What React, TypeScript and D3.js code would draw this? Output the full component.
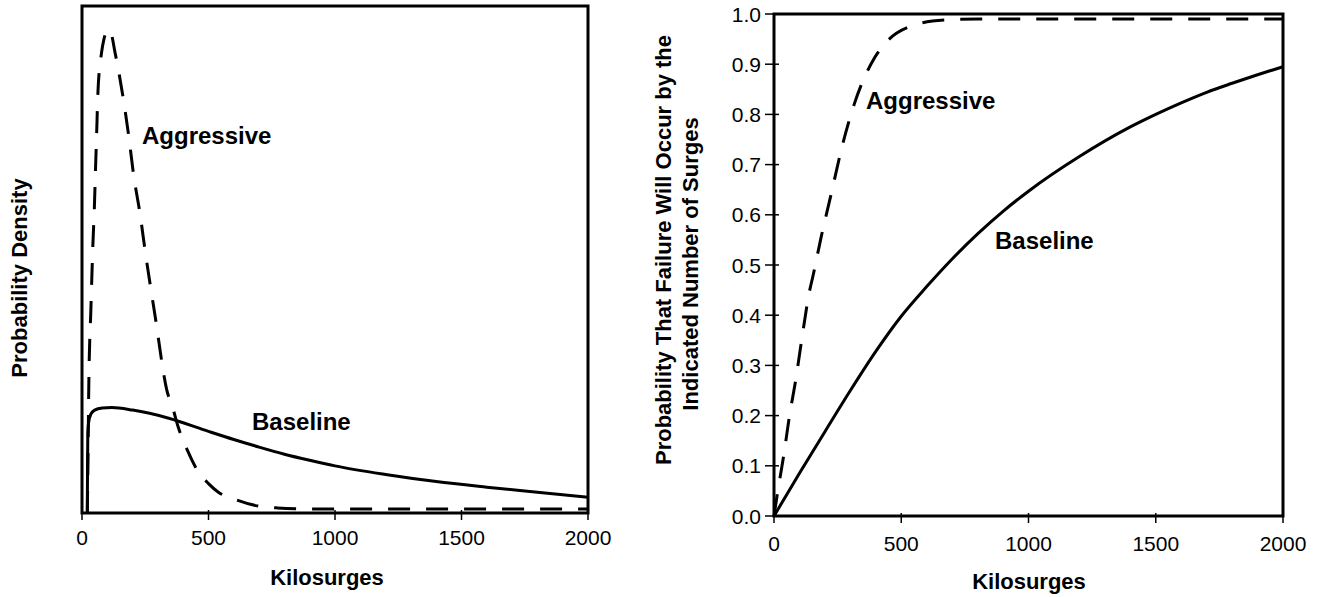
import React from 'react';
import * as d3 from 'd3';

// ---------- data ----------
const xTickValues = [0, 500, 1000, 1500, 2000];
const yTickValuesRight = [0, 0.1, 0.2, 0.3, 0.4, 0.5, 0.6, 0.7, 0.8, 0.9, 1.0];

// Left panel: probability density (arbitrary units, 0..1 of panel height)
const densBaselineKs = [21, 22, 23, 26, 35, 50, 80, 118, 200, 343, 500, 600, 700, 800, 900, 1000, 1200, 1400, 1600, 1800, 2000];
const densBaselineVal = [0, 0.1, 0.155, 0.178, 0.195, 0.203, 0.207, 0.208, 0.203, 0.187, 0.161, 0.145, 0.13, 0.116, 0.104, 0.093, 0.076, 0.062, 0.051, 0.041, 0.031];

const densAggressiveKs = [21, 24, 27, 35, 43, 49, 53, 58, 63, 77, 87, 100, 110, 131, 161, 184, 204, 230, 249, 290, 335, 360, 380, 420, 455, 500, 539, 610, 693, 772, 900, 2000];
const densAggressiveVal = [0, 0.12, 0.256, 0.4, 0.529, 0.604, 0.671, 0.75, 0.83, 0.907, 0.935, 0.952, 0.952, 0.907, 0.824, 0.746, 0.667, 0.588, 0.519, 0.385, 0.243, 0.205, 0.17, 0.12, 0.085, 0.058, 0.041, 0.026, 0.014, 0.01, 0.008, 0.008];

// Right panel: cumulative probability of failure
const cdfBaselineKs = [0, 100, 200, 300, 400, 500, 600, 700, 800, 900, 1000, 1200, 1400, 1500, 1600, 1700, 1800, 1900, 2000];
const cdfBaselineVal = [0, 0.085, 0.168, 0.25, 0.328, 0.398, 0.457, 0.512, 0.562, 0.607, 0.647, 0.716, 0.775, 0.8, 0.823, 0.844, 0.862, 0.879, 0.895];

const cdfAggressiveKs = [0, 15, 38, 61, 85, 110, 138, 154, 185, 224, 272, 315, 394, 441, 539, 669, 800, 1000, 1500, 2000];
const cdfAggressiveVal = [0, 0.05, 0.12, 0.2, 0.27, 0.355, 0.444, 0.48, 0.555, 0.64, 0.745, 0.82, 0.912, 0.944, 0.976, 0.988, 0.99, 0.99, 0.99, 0.99];

const xAxisTitle = 'Kilosurges';
const leftYTitle = 'Probability Density';
const rightYTitle1 = 'Probability That Failure Will Occur by the';
const rightYTitle2 = 'Indicated Number of Surges';

// ---------- layout ----------
const W = 1319;
const H = 597;
const FONT = "'Liberation Sans', Arial, Helvetica, sans-serif";

const L = { x0: 82, x1: 588, y0: 513, y1: 6 };
const R = { x0: 774, x1: 1283, y0: 516, y1: 14 };

const zip = (xs: number[], ys: number[]) => xs.map((x, i) => [x, ys[i]] as [number, number]);

export default function App() {
  const lx = d3.scaleLinear().domain([0, 2000]).range([L.x0, L.x1]);
  const ly = d3.scaleLinear().domain([0, 1]).range([L.y0, L.y1]);
  const rx = d3.scaleLinear().domain([0, 2000]).range([R.x0, R.x1]);
  const ry = d3.scaleLinear().domain([0, 1]).range([R.y0, R.y1]);

  const lLine = d3.line<[number, number]>().x(d => lx(d[0])).y(d => ly(d[1])).curve(d3.curveMonotoneX);
  const rLine = d3.line<[number, number]>().x(d => rx(d[0])).y(d => ry(d[1])).curve(d3.curveMonotoneX);

  const dash = '22,16';
  const lw = 3;

  return (
    <svg width={W} height={H} style={{ position: 'absolute', left: 0, top: 0, background: '#fff' }} fontFamily={FONT}>
      <rect x={0} y={0} width={W} height={H} fill="#fff" />

      {/* ---------- left panel ---------- */}
      <g>
        <path d={lLine(zip(densAggressiveKs, densAggressiveVal)) || ''} fill="none" stroke="#000" strokeWidth={lw} strokeDasharray={dash} />
        <path d={lLine(zip(densBaselineKs, densBaselineVal)) || ''} fill="none" stroke="#000" strokeWidth={lw} />
        <rect x={L.x0} y={L.y1} width={L.x1 - L.x0} height={L.y0 - L.y1} fill="none" stroke="#000" strokeWidth={3} />
        {xTickValues.map(t => (
          <g key={'lt' + t}>
            <line x1={lx(t)} x2={lx(t)} y1={L.y0 - 3} y2={L.y0 + 7} stroke="#000" strokeWidth={1.5} />
            <text x={lx(t)} y={545} textAnchor="middle" fontSize={21} fill="#000">{t}</text>
          </g>
        ))}
        <text x={327} y={585} textAnchor="middle" fontSize={22} fontWeight="bold" fill="#000">{xAxisTitle}</text>
        <text transform={`translate(19,278) rotate(-90)`} textAnchor="middle" dominantBaseline="central" fontSize={22} fontWeight="bold" fill="#000">{leftYTitle}</text>
        <text x={142} y={144} fontSize={24} fontWeight="bold" fill="#000">Aggressive</text>
        <text x={252} y={430} fontSize={24} fontWeight="bold" fill="#000">Baseline</text>
      </g>

      {/* ---------- right panel ---------- */}
      <g>
        <path d={rLine(zip(cdfAggressiveKs, cdfAggressiveVal)) || ''} fill="none" stroke="#000" strokeWidth={lw} strokeDasharray={dash} />
        <path d={rLine(zip(cdfBaselineKs, cdfBaselineVal)) || ''} fill="none" stroke="#000" strokeWidth={lw} />
        <rect x={R.x0} y={R.y1} width={R.x1 - R.x0} height={R.y0 - R.y1} fill="none" stroke="#000" strokeWidth={3} />
        {xTickValues.map(t => (
          <g key={'rt' + t}>
            <line x1={rx(t)} x2={rx(t)} y1={R.y0 - 3} y2={R.y0 + 7} stroke="#000" strokeWidth={1.5} />
            <text x={rx(t)} y={551} textAnchor="middle" fontSize={21} fill="#000">{t}</text>
          </g>
        ))}
        {yTickValuesRight.map(t => (
          <g key={'ry' + t}>
            <line x1={R.x0 - 9} x2={R.x0 + 5} y1={ry(t)} y2={ry(t)} stroke="#000" strokeWidth={1.5} />
            <text x={R.x0 - 13} y={ry(t)} textAnchor="end" dominantBaseline="central" fontSize={21} fill="#000">{d3.format('.1f')(t)}</text>
          </g>
        ))}
        <text x={1029} y={589} textAnchor="middle" fontSize={22} fontWeight="bold" fill="#000">{xAxisTitle}</text>
        <text transform={`translate(663,250) rotate(-90)`} textAnchor="middle" dominantBaseline="central" fontSize={22} fontWeight="bold" fill="#000">{rightYTitle1}</text>
        <text transform={`translate(690,264) rotate(-90)`} textAnchor="middle" dominantBaseline="central" fontSize={22} fontWeight="bold" fill="#000">{rightYTitle2}</text>
        <text x={866} y={109} fontSize={24} fontWeight="bold" fill="#000">Aggressive</text>
        <text x={995} y={249} fontSize={24} fontWeight="bold" fill="#000">Baseline</text>
      </g>
    </svg>
  );
}
